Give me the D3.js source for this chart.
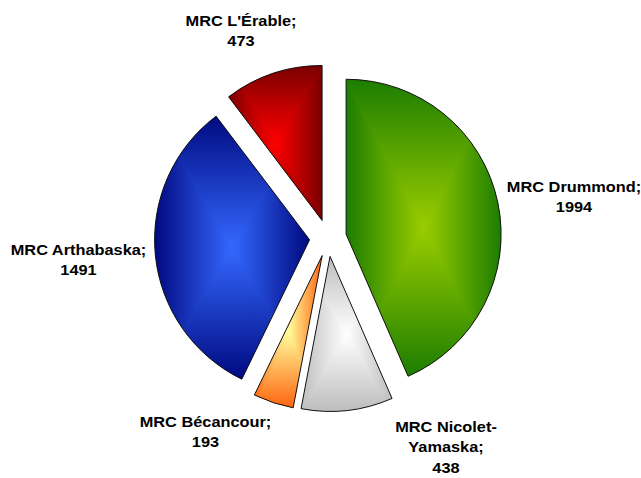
<!DOCTYPE html>
<html>
<head>
<meta charset="utf-8">
<script src="https://cdn.jsdelivr.net/npm/d3@7"></script>
<style>
  html, body { margin: 0; padding: 0; background: #fff; }
  svg { display: block; }
  text { font-family: "Liberation Sans", Arial, sans-serif; font-weight: bold; font-size: 15px; fill: #000; }
</style>
</head>
<body>
<svg id="chart" width="641" height="478"></svg>
<script>
// Slices, clockwise from 12 o'clock
const categories = ["MRC Drummond", "MRC Nicolet-Yamaska", "MRC Bécancour", "MRC Arthabaska", "MRC L'Érable"];
const values = [1994, 438, 193, 1491, 473];
// Label text lines (the value is appended as the last line)
const labelLines = [["MRC Drummond;"], ["MRC Nicolet-", "Yamaska;"], ["MRC Bécancour;"], ["MRC Arthabaska;"], ["MRC L'Érable;"]];
// Shading: colour at the slice border and at its centre
const edgeColors = ["#1c7d00", "#bdbdbd", "#ff6410", "#000a80", "#7a0000"];
const centerColors = ["#9acd00", "#ffffff", "#ffff9c", "#3468ff", "#ff0000"];

// Layout
const cx = 328, cy = 238, radius = 155, explode = 18.5;
const labelAnchors = [[574, 192], [446, 432], [205.5, 427], [78.5, 254.5], [241, 26]];
const lineHeight = 20.5, textStretch = 1.09;

const svg = d3.select("#chart");
const defs = svg.append("defs");

const pie = d3.pie().sort(null).value(d => d.value);
const arc = d3.arc().innerRadius(0).outerRadius(radius);
const data = categories.map((c, i) => ({ name: c, value: values[i], i }));
const arcs = pie(data);

const g = svg.append("g").attr("transform", `translate(${cx},${cy})`);

arcs.forEach((a, i) => {
  const mid = (a.startAngle + a.endAngle) / 2;
  const dx = Math.sin(mid) * explode, dy = -Math.cos(mid) * explode;
  const sg = g.append("g").attr("transform", `translate(${dx},${dy})`);
  const d = arc(a);

  // clip for the slice
  const clipId = "clip" + i;
  defs.append("clipPath").attr("id", clipId).append("path").attr("d", d);

  // measure the slice to build a rectangular "from centre" gradient
  const tmp = sg.append("path").attr("d", d).attr("fill", "none");
  const bb = tmp.node().getBBox();
  tmp.remove();
  const x0 = bb.x, y0 = bb.y, x1 = bb.x + bb.width, y1 = bb.y + bb.height;
  const mx = (x0 + x1) / 2, my = (y0 + y1) / 2;

  const sides = [
    { pts: [[x0, y0], [x1, y0], [mx, my]], from: [mx, y0] },
    { pts: [[x0, y1], [x1, y1], [mx, my]], from: [mx, y1] },
    { pts: [[x0, y0], [x0, y1], [mx, my]], from: [x0, my] },
    { pts: [[x1, y0], [x1, y1], [mx, my]], from: [x1, my] }
  ];

  const fillG = sg.append("g").attr("clip-path", `url(#${clipId})`);
  fillG.append("path").attr("d", d).attr("fill", d3.interpolateRgb(edgeColors[i], centerColors[i])(0.5));
  sides.forEach((s, k) => {
    const gid = `grad${i}_${k}`;
    const lg = defs.append("linearGradient").attr("id", gid)
      .attr("gradientUnits", "userSpaceOnUse")
      .attr("x1", s.from[0]).attr("y1", s.from[1])
      .attr("x2", mx).attr("y2", my);
    lg.append("stop").attr("offset", 0).attr("stop-color", edgeColors[i]);
    lg.append("stop").attr("offset", 1).attr("stop-color", centerColors[i]);
    fillG.append("polygon")
      .attr("points", s.pts.map(p => p.join(",")).join(" "))
      .attr("fill", `url(#${gid})`)
      .attr("stroke", `url(#${gid})`)
      .attr("stroke-width", 0.6);
  });

  sg.append("path").attr("d", d)
    .attr("fill", "none")
    .attr("stroke", "#111")
    .attr("stroke-width", 1)
    .attr("stroke-linejoin", "miter");
});

// Data labels
const labels = svg.append("g");
arcs.forEach((a, i) => {
  const [lx, ly] = labelAnchors[i];
  const lines = labelLines[i].concat([String(values[i])]);
  const t = labels.append("g").attr("transform", `translate(${lx},${ly}) scale(${textStretch},1)`);
  lines.forEach((ln, k) => {
    t.append("text")
      .attr("x", 0).attr("y", k * lineHeight)
      .attr("text-anchor", "middle")
      .text(ln);
  });
});
</script>
</body>
</html>
